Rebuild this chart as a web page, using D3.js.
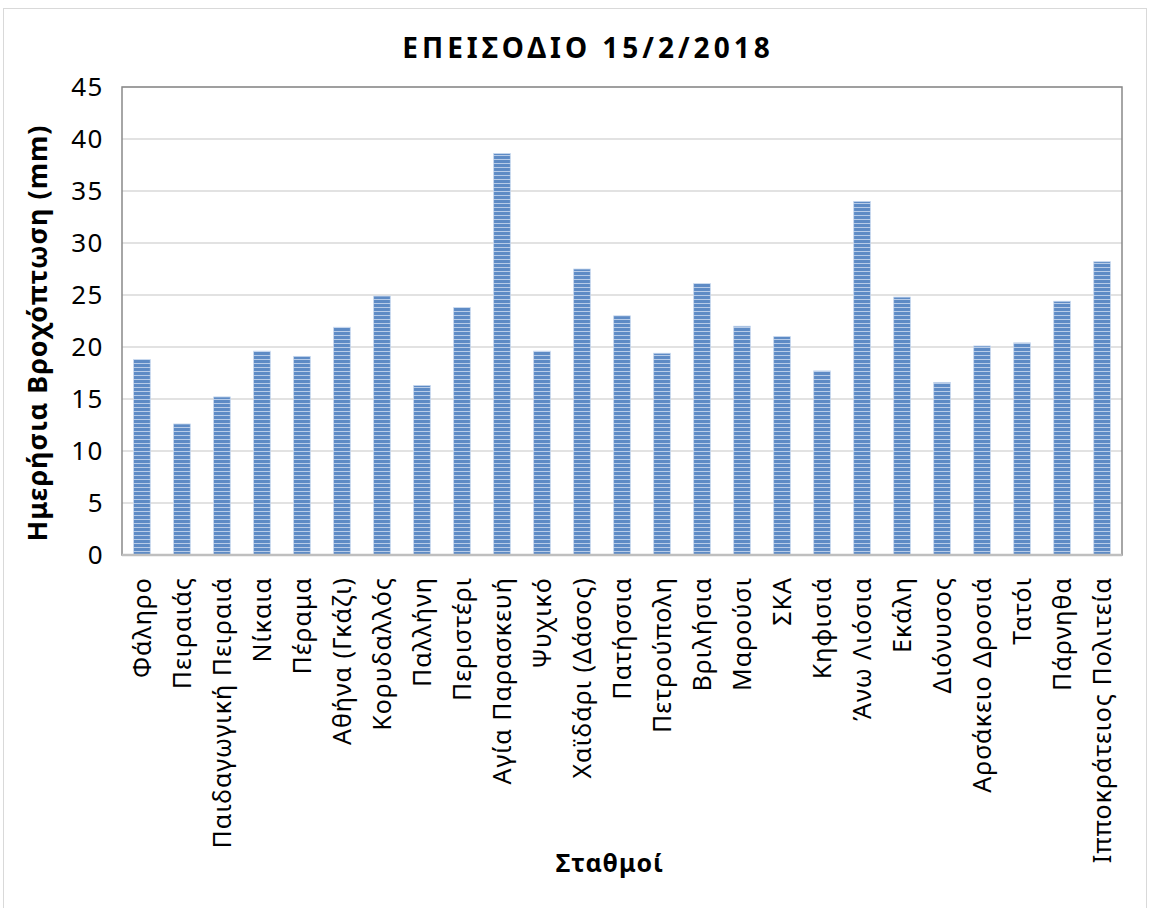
<!DOCTYPE html>
<html>
<head>
<meta charset="utf-8">
<script src="https://cdn.jsdelivr.net/npm/d3@7"></script>
<style>
  body { margin: 0; background: #fff; }
  text { font-family: "Noto Sans", "Open Sans", sans-serif; fill: #000; }
</style>
</head>
<body>
<svg width="1151" height="908"></svg>
<script>
//chart size
const SVG_WIDTH = 1151;
const SVG_HEIGHT = 908;

//stations, in the order they appear on the x axis
var stations = ['Φάληρο', 'Πειραιάς', 'Παιδαγωγική Πειραιά', 'Νίκαια', 'Πέραμα',
                'Αθήνα (Γκάζι)', 'Κορυδαλλός', 'Παλλήνη', 'Περιστέρι', 'Αγία Παρασκευή',
                'Ψυχικό', 'Χαϊδάρι (Δάσος)', 'Πατήσσια', 'Πετρούπολη', 'Βριλήσια',
                'Μαρούσι', 'ΣΚΑ', 'Κηφισιά', 'Άνω Λιόσια', 'Εκάλη',
                'Διόνυσος', 'Αρσάκειο Δροσιά', 'Τατόι', 'Πάρνηθα', 'Ιπποκράτειος Πολιτεία'];
//daily rainfall (mm) for each station
var rainfall = [18.8, 12.6, 15.2, 19.6, 19.1,
                21.9, 24.9, 16.3, 23.8, 38.6,
                19.6, 27.5, 23.0, 19.4, 26.1,
                22.0, 21.0, 17.7, 34.0, 24.8,
                16.6, 20.1, 20.4, 24.4, 28.2];
//y axis ticks
var yTicks = [0, 5, 10, 15, 20, 25, 30, 35, 40, 45];

var title = 'ΕΠΕΙΣΟΔΙΟ 15/2/2018';
var yTitle = 'Ημερήσια Βροχόπτωση (mm)';
var xTitle = 'Σταθμοί';

var margin = {left: 122, right: 1122, top: 87, bottom: 555};

var svg = d3.select('svg');

//outer chart frame
svg.append('rect')
   .attr('x', 3.5).attr('y', 8.5)
   .attr('width', 1143).attr('height', 920)
   .attr('fill', 'white')
   .attr('stroke', '#d9d9d9');

//striped fill for the bars
var pat = svg.append('defs').append('pattern')
   .attr('id', 'stripes')
   .attr('patternUnits', 'userSpaceOnUse')
   .attr('width', 8).attr('height', 4);
pat.append('rect').attr('width', 8).attr('height', 4).attr('fill', '#5e8bc5');
pat.append('rect').attr('y', 3).attr('width', 8).attr('height', 1).attr('fill', '#b8cce8');

var x = d3.scaleBand()
          .domain(stations)
          .range([margin.left, margin.right])
          .paddingInner(0.583)
          .paddingOuter(0.29);

var y = d3.scaleLinear()
          .domain([0, 45])
          .range([margin.bottom, margin.top]);

//gridlines
svg.append('g')
   .selectAll('line')
   .data(yTicks.slice(1))
   .enter()
   .append('line')
     .attr('x1', margin.left).attr('x2', margin.right)
     .attr('y1', function(d) { return y(d); })
     .attr('y2', function(d) { return y(d); })
     .attr('stroke', '#d9d9d9')
     .attr('stroke-width', 1.5);

//bars
svg.append('g')
   .selectAll('rect')
   .data(rainfall)
   .enter()
   .append('rect')
     .attr('x', function(d, i) { return x(stations[i]); })
     .attr('y', function(d) { return y(d); })
     .attr('width', x.bandwidth())
     .attr('height', function(d) { return y(0) - y(d); })
     .attr('fill', 'url(#stripes)')
     .attr('stroke', '#c6d7ee')
     .attr('stroke-width', 0.8);

//plot area border (dark grey), bottom axis lighter
svg.append('rect')
   .attr('x', margin.left).attr('y', margin.top)
   .attr('width', margin.right - margin.left)
   .attr('height', margin.bottom - margin.top)
   .attr('fill', 'none')
   .attr('stroke', '#898989')
   .attr('stroke-width', 1.5);
svg.append('line')
   .attr('x1', margin.left).attr('x2', margin.right)
   .attr('y1', margin.bottom).attr('y2', margin.bottom)
   .attr('stroke', '#bfbfbf')
   .attr('stroke-width', 2.5);

//y axis
var yAxis = svg.append('g')
   .attr('transform', 'translate(' + margin.left + ',0)')
   .call(d3.axisLeft(y).tickValues(yTicks).tickSize(0).tickPadding(18));
yAxis.select('.domain').remove();
yAxis.selectAll('text')
   .attr('font-size', 26)
   .attr('letter-spacing', 1.5)
   .style('font-family', '"Noto Sans", sans-serif');

//x axis
var xAxis = svg.append('g')
   .attr('transform', 'translate(0,' + margin.bottom + ')')
   .call(d3.axisBottom(x).tickSize(0));
xAxis.select('.domain').remove();
xAxis.selectAll('text')
   .attr('font-size', 25)
   .attr('letter-spacing', 1)
   .style('font-family', '"Noto Sans", sans-serif')
   .attr('text-anchor', 'end')
   .attr('transform', 'rotate(-90)')
   .attr('x', -22)
   .attr('y', 0)
   .attr('dy', '0.35em');

//titles
svg.append('text')
   .attr('x', 588).attr('y', 58)
   .attr('text-anchor', 'middle')
   .attr('font-size', 28)
   .attr('font-weight', 'bold')
   .attr('letter-spacing', 4)
   .text(title);

svg.append('text')
   .attr('transform', 'translate(47,' + ((margin.top + margin.bottom) / 2 + 12) + ') rotate(-90)')
   .attr('text-anchor', 'middle')
   .attr('font-size', 27)
   .attr('font-weight', 'bold')
   .attr('letter-spacing', 1)
   .text(yTitle);

svg.append('text')
   .attr('x', 610).attr('y', 872)
   .attr('text-anchor', 'middle')
   .attr('font-size', 25)
   .attr('font-weight', 'bold')
   .attr('letter-spacing', 1)
   .text(xTitle);
</script>
</body>
</html>
